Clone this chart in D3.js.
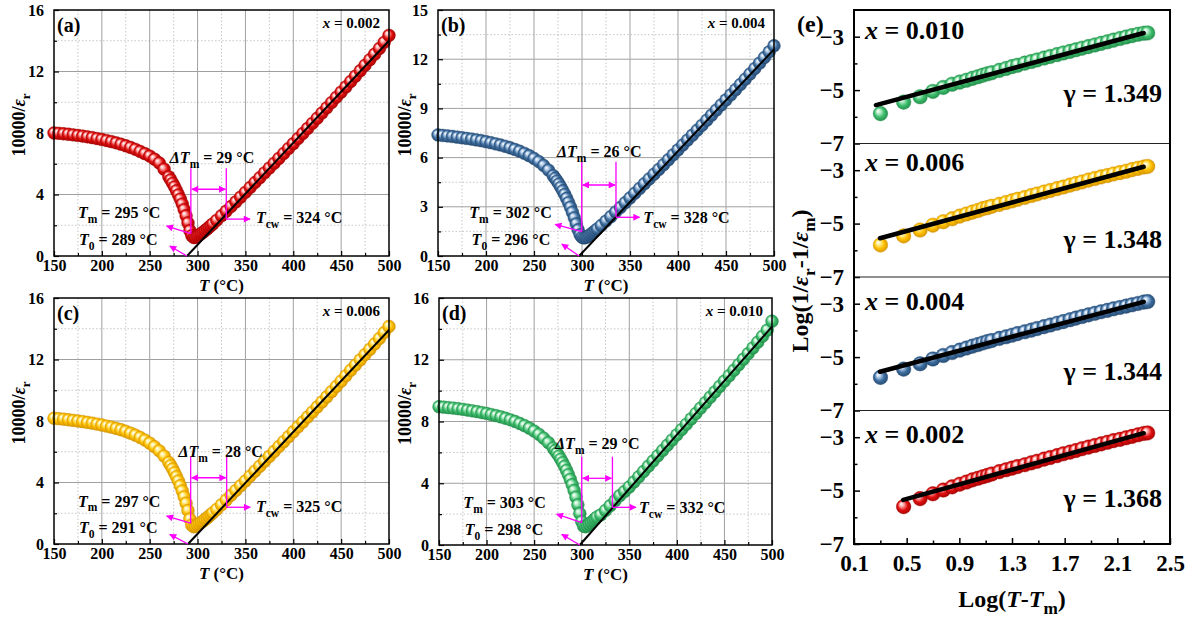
<!DOCTYPE html>
<html><head><meta charset="utf-8">
<script src="https://cdn.jsdelivr.net/npm/d3@7"></script>
<style>
body{margin:0;background:#fff;}
svg text{font-family:"Liberation Serif","Times New Roman",serif;font-weight:bold;fill:#000;}
</style></head><body>
<svg id="chart" width="1196" height="621"></svg>
<script>
// ---------------- DATA ----------------
const temps = [150,155,160,165,170,175,180,185,190,195,200,205,210,215,220,225,230,235,240,245,250,255,260,265,270,
 272,274,276,278,280,282,284,286,288,290,292,294,296,298,300,302,304,306,308,310,312,314,316,
 320,325,330,335,340,345,350,355,360,365,370,375,380,385,390,395,400,405,410,415,420,425,430,435,440,445,450,455,460,465,470,475,480,485,490,495,500];

const invEpsA = [8.00,7.98,7.95,7.92,7.88,7.84,7.80,7.75,7.70,7.64,7.58,7.51,7.44,7.36,7.27,7.17,7.06,6.94,6.80,6.66,6.50,6.30,6.05,5.65,5.15,
 4.95,4.73,4.50,4.25,3.98,3.70,3.38,3.02,2.62,2.15,1.65,1.32,1.20,1.22,1.30,1.38,1.47,1.56,1.66,1.76,1.87,1.98,2.09,
 2.32,2.62,2.92,3.22,3.52,3.83,4.14,4.46,4.78,5.09,5.41,5.72,6.03,6.35,6.67,6.99,7.31,7.64,7.97,8.30,8.63,8.96,9.30,9.64,9.98,10.32,10.66,11.00,11.35,11.70,12.05,12.41,12.77,13.13,13.50,13.90,14.35];
const invEpsB = [7.38,7.35,7.32,7.29,7.25,7.21,7.17,7.13,7.08,7.03,6.97,6.91,6.84,6.77,6.69,6.60,6.50,6.39,6.26,6.12,5.95,5.76,5.52,5.24,4.90,
 4.74,4.57,4.39,4.19,3.98,3.76,3.52,3.26,2.98,2.67,2.33,1.96,1.60,1.30,1.14,1.10,1.13,1.19,1.27,1.36,1.45,1.55,1.65,
 1.86,2.13,2.40,2.68,2.96,3.25,3.54,3.83,4.12,4.41,4.70,4.99,5.28,5.57,5.87,6.17,6.47,6.77,7.07,7.37,7.67,7.97,8.28,8.59,8.90,9.21,9.52,9.83,10.14,10.46,10.78,11.10,11.43,11.76,12.10,12.45,12.82];
const invEpsC = [8.18,8.15,8.12,8.08,8.04,8.00,7.96,7.91,7.86,7.80,7.74,7.67,7.60,7.52,7.43,7.33,7.21,7.08,6.93,6.76,6.56,6.33,6.06,5.72,5.30,
 5.10,4.88,4.64,4.38,4.10,3.79,3.45,3.07,2.65,2.18,1.62,1.22,1.12,1.16,1.24,1.32,1.41,1.50,1.60,1.70,1.81,1.92,2.03,
 2.25,2.55,2.86,3.17,3.48,3.79,4.10,4.42,4.74,5.06,5.38,5.70,6.02,6.34,6.66,6.98,7.30,7.62,7.94,8.26,8.58,8.91,9.24,9.57,9.91,10.25,10.59,10.94,11.30,11.64,11.98,12.32,12.66,13.01,13.37,13.75,14.15];
const invEpsD = [8.96,8.93,8.90,8.87,8.83,8.79,8.74,8.69,8.64,8.58,8.52,8.45,8.38,8.30,8.21,8.11,8.00,7.87,7.73,7.57,7.38,7.17,6.92,6.63,6.28,
 6.12,5.95,5.76,5.56,5.34,5.10,4.84,4.56,4.25,3.91,3.53,3.10,2.60,2.04,1.52,1.22,1.18,1.25,1.35,1.46,1.57,1.69,1.81,
 1.95,2.24,2.55,2.87,3.20,3.47,3.76,4.09,4.42,4.76,5.10,5.44,5.78,6.12,6.46,6.80,7.14,7.48,7.82,8.17,8.52,8.87,9.22,9.57,9.92,10.27,10.62,10.97,11.32,11.68,12.04,12.40,12.77,13.14,13.52,13.92,14.50];

// Curie-Weiss fit lines: from (T0, 0) to (500, end)
const fitT0 = [289, 297, 290, 298];
const fitEnd = [14.0, 12.6, 13.92, 14.14];

// annotations
const compLabels = ["0.002","0.004","0.006","0.010"];
const panelLetters = ["(a)","(b)","(c)","(d)"];
const tmText = ["295","302","297","303"];
const t0Text = ["289","296","291","298"];
const tcwText = ["324","328","325","332"];
const dTmText = ["29","26","28","29"];
const tmLineT = [293, 299.7, 292.8, 300];
const tmLineTop = [5.7, 5.75, 5.68, 5.72];
const tmLineBot = [1.45, 1.48, 1.35, 1.45];
const tcwLineT = [330, 335.4, 330.4, 332.3];
const tcwLineBot = [2.4, 2.36, 2.39, 2.44];
const dblArrowV = [4.34, 4.33, 4.31, 4.32];
const tcwArrowEnd = [354.8, 360, 355, 357];
const tmArrowHead = [[267.7,1.95],[272,1.93],[267.7,1.82],[273.7,2.0]];
const t0ArrowHead = [[271,0.65],[279,0.73],[271,0.63],[279,0.69]];
const dTmLabelPos = [[271,6.05],[274,6.04],[280,5.66],[272,6.22]];
const tmLabelPos = [[175,2.47],[182.6,2.32],[175,2.43],[175.6,2.4]];
const t0LabelPos = [[176,0.72],[185,0.67],[176,0.69],[177,0.65]];
const tcwLabelPos = [[361,2.15],[363.9,2.01],[361,2.1],[360.3,2.05]];

const xTicks = [150,200,250,300,350,400,450,500];
const xMinor = [175,225,275,325,375,425,475];
const yTicks16 = [0,4,8,12,16], yMinor16 = [2,6,10,14];
const yTicks15 = [0,3,6,9,12,15], yMinor15 = [1.5,4.5,7.5,10.5,13.5];

// panel (e)
const deltaT = [2,3,4,5,6,7,8,9,10,11,12,13,14,16,18,20,22,25,28,31,35,39,44,49,55,61,68,76,85,95,106,118,132,147,163,181,200,214];
const deltaTRed = [3,4,5,6,7,8,9,10,11,12,13,14,16,18,20,22,25,28,31,35,39,44,49,55,61,68,76,85,95,106,118,132,147,163,181,200,214];
const logG010 = [-5.88,-5.45,-5.25,-5.05,-4.90,-4.78,-4.70,-4.63,-4.56,-4.50,-4.44,-4.39,-4.35,-4.26,-4.19,-4.12,-4.07,-3.99,-3.93,-3.87,-3.80,-3.74,-3.67,-3.61,-3.55,-3.49,-3.43,-3.37,-3.31,-3.25,-3.19,-3.13,-3.07,-3.01,-2.96,-2.91,-2.87,-2.86];
const logG006 = [-5.80,-5.46,-5.24,-5.06,-4.93,-4.82,-4.72,-4.64,-4.57,-4.51,-4.44,-4.40,-4.35,-4.28,-4.21,-4.15,-4.09,-4.02,-3.95,-3.89,-3.82,-3.76,-3.69,-3.63,-3.56,-3.50,-3.44,-3.37,-3.31,-3.25,-3.20,-3.14,-3.09,-3.04,-2.98,-2.93,-2.88,-2.86];
const logG004 = [-5.76,-5.45,-5.25,-5.07,-4.94,-4.83,-4.74,-4.66,-4.59,-4.53,-4.47,-4.42,-4.38,-4.30,-4.24,-4.18,-4.12,-4.05,-3.99,-3.93,-3.86,-3.80,-3.73,-3.67,-3.60,-3.54,-3.48,-3.42,-3.36,-3.30,-3.25,-3.19,-3.14,-3.09,-3.04,-2.99,-2.94,-2.92];
const logG002 = [-5.60,-5.30,-5.12,-4.98,-4.86,-4.76,-4.68,-4.60,-4.54,-4.48,-4.43,-4.38,-4.29,-4.22,-4.16,-4.10,-4.03,-3.96,-3.90,-3.82,-3.76,-3.69,-3.62,-3.56,-3.50,-3.43,-3.37,-3.31,-3.25,-3.19,-3.13,-3.08,-3.02,-2.97,-2.91,-2.86,-2.84];
const eComps = ["0.010","0.006","0.004","0.002"];
const gammas = ["1.349","1.348","1.344","1.368"];
const eFitStart = [[0.267,-5.56],[0.297,-5.55],[0.297,-5.55],[0.474,-5.35]];
const eFitEnd = [[2.30,-2.86],[2.30,-2.87],[2.30,-2.93],[2.30,-2.85]];
const eXTicks = [0.1,0.5,0.9,1.3,1.7,2.1,2.5];
const eXMinor = [0.3,0.7,1.1,1.5,1.9,2.3];
const eYTicks = [-3,-5,-7];
const eYMinor = [-4,-6];

// ---------------- DRAW ----------------
const svg = d3.select("#chart");
const defs = svg.append("defs");
const colors = {
  red:   ["#ffb0b0","#e01010","#a00000"],
  blue:  ["#b8d0ea","#3d6d9e","#24476e"],
  yellow:["#fff0a0","#ffc000","#d09000"],
  green: ["#bff0cf","#3dbd6c","#218a48"]
};
Object.entries(colors).forEach(([k,c]) => {
  const g = defs.append("radialGradient").attr("id","sph-"+k)
    .attr("cx","50%").attr("cy","50%").attr("r","55%").attr("fx","32%").attr("fy","30%");
  g.append("stop").attr("offset","0%").attr("stop-color","#ffffff");
  g.append("stop").attr("offset","25%").attr("stop-color",c[0]);
  g.append("stop").attr("offset","60%").attr("stop-color",c[1]);
  g.append("stop").attr("offset","100%").attr("stop-color",c[2]);
});
defs.append("marker").attr("id","ah").attr("viewBox","0 0 10 10")
  .attr("refX",9).attr("refY",5).attr("markerWidth",9).attr("markerHeight",7)
  .attr("markerUnits","userSpaceOnUse").attr("orient","auto-start-reverse")
  .append("path").attr("d","M0,0L10,5L0,10z").attr("fill","#ff00ff");

function rich(parent, x, y, parts, size, anchor) {
  const t = parent.append("text").attr("x", x).attr("y", y)
    .attr("font-size", size).attr("text-anchor", anchor || "start");
  let cur = 0;
  parts.forEach(([s, f]) => {
    const ts = t.append("tspan").text(s);
    const sub = f && f.includes("s");
    if (f && f.includes("i")) ts.attr("font-style","italic");
    const off = sub ? size*0.3 : 0;
    if (off !== cur) { ts.attr("dy", off - cur); cur = off; }
    if (sub) ts.attr("font-size", size*0.72);
  });
  return t;
}

const panelCfg = [
  {l:54, r:389, t:10, b:256, ymax:16, yt:yTicks16, ym:yMinor16, data:invEpsA, col:"red", ytx:25},
  {l:438, r:774, t:10, b:256, ymax:15, yt:yTicks15, ym:yMinor15, data:invEpsB, col:"blue", ytx:411},
  {l:54, r:389, t:298, b:544, ymax:16, yt:yTicks16, ym:yMinor16, data:invEpsC, col:"yellow", ytx:25},
  {l:439, r:772, t:298, b:545, ymax:16, yt:yTicks16, ym:yMinor16, data:invEpsD, col:"green", ytx:411}
];

panelCfg.forEach((p, i) => {
  const g = svg.append("g");
  const x = d3.scaleLinear().domain([150,500]).range([p.l, p.r]);
  const y = d3.scaleLinear().domain([0, p.ymax]).range([p.b, p.t]);
  // grid
  g.selectAll(".gmx").data(xMinor).enter().append("line")
    .attr("x1",d=>x(d)).attr("x2",d=>x(d)).attr("y1",p.t).attr("y2",p.b)
    .attr("stroke","#b8b8b8").attr("stroke-width",0.8).attr("stroke-dasharray","1.5,2");
  g.selectAll(".gmy").data(p.ym).enter().append("line")
    .attr("x1",p.l).attr("x2",p.r).attr("y1",d=>y(d)).attr("y2",d=>y(d))
    .attr("stroke","#b8b8b8").attr("stroke-width",0.8).attr("stroke-dasharray","1.5,2");
  g.selectAll(".gx").data(xTicks.slice(1,-1)).enter().append("line")
    .attr("x1",d=>x(d)).attr("x2",d=>x(d)).attr("y1",p.t).attr("y2",p.b)
    .attr("stroke","#a0a0a0").attr("stroke-width",1);
  g.selectAll(".gy").data(p.yt.slice(1,-1)).enter().append("line")
    .attr("x1",p.l).attr("x2",p.r).attr("y1",d=>y(d)).attr("y2",d=>y(d))
    .attr("stroke","#a0a0a0").attr("stroke-width",1);

  // axes (ticks inward)
  const ax = g.append("g").attr("transform",`translate(0,${p.b})`)
    .call(d3.axisBottom(x).tickValues(xTicks).tickSize(-5).tickFormat(d3.format("d")));
  ax.selectAll("text").attr("font-size",16).attr("dy","0.71em").attr("y",4);
  g.append("g").attr("transform",`translate(0,${p.b})`)
    .call(d3.axisBottom(x).tickValues(xMinor).tickSize(-3).tickFormat(""));
  const ay = g.append("g").attr("transform",`translate(${p.l},0)`)
    .call(d3.axisLeft(y).tickValues(p.yt).tickSize(-5).tickPadding(10).tickFormat(d3.format("d")));
  ay.selectAll("text").attr("font-size",16);
  g.append("g").attr("transform",`translate(${p.l},0)`)
    .call(d3.axisLeft(y).tickValues(p.ym).tickSize(-3).tickFormat(""));
  g.selectAll(".domain").remove();
  g.selectAll(".tick line").attr("stroke","#000").attr("stroke-width",1.2);

  // data circles
  const pts = temps.map((t, k) => [t, p.data[k]]);
  g.selectAll(".pt").data(pts).enter().append("circle")
    .attr("cx",d=>x(d[0])).attr("cy",d=>y(d[1])).attr("r",6.4)
    .attr("fill",`url(#sph-${p.col})`).attr("stroke",colors[p.col][2]).attr("stroke-width",0.4);

  // fit line
  g.append("line").attr("x1",x(fitT0[i])).attr("y1",y(0)).attr("x2",x(500)).attr("y2",y(fitEnd[i]))
    .attr("stroke","#000").attr("stroke-width",2);

  // frame
  g.append("rect").attr("x",p.l).attr("y",p.t).attr("width",p.r-p.l).attr("height",p.b-p.t)
    .attr("fill","none").attr("stroke","#000").attr("stroke-width",1.5);

  // magenta annotations
  const mg = g.append("g").attr("stroke","#ff00ff").attr("stroke-width",1.3).attr("fill","none");
  mg.append("line").attr("x1",x(tmLineT[i])).attr("x2",x(tmLineT[i])).attr("y1",y(tmLineTop[i])).attr("y2",y(tmLineBot[i]));
  mg.append("line").attr("x1",x(tcwLineT[i])).attr("x2",x(tcwLineT[i])).attr("y1",y(tmLineTop[i])).attr("y2",y(tcwLineBot[i]));
  mg.append("line").attr("x1",x(tmLineT[i])+1).attr("x2",x(tcwLineT[i])-1).attr("y1",y(dblArrowV[i])).attr("y2",y(dblArrowV[i]))
    .attr("marker-start","url(#ah)").attr("marker-end","url(#ah)");
  mg.append("line").attr("x1",x(tcwLineT[i])).attr("x2",x(tcwArrowEnd[i])).attr("y1",y(tcwLineBot[i])).attr("y2",y(tcwLineBot[i]))
    .attr("marker-end","url(#ah)");
  mg.append("line").attr("x1",x(tmLineT[i])).attr("y1",y(tmLineBot[i])).attr("x2",x(tmArrowHead[i][0])).attr("y2",y(tmArrowHead[i][1]))
    .attr("marker-end","url(#ah)");
  mg.append("line").attr("x1",x(fitT0[i])).attr("y1",y(0)).attr("x2",x(t0ArrowHead[i][0])).attr("y2",y(t0ArrowHead[i][1]))
    .attr("marker-end","url(#ah)");

  // labels
  rich(g, x(dTmLabelPos[i][0]), y(dTmLabelPos[i][1]), [["ΔT","i"],["m","s"],[" = "+dTmText[i]+" °C"]], 16);
  rich(g, x(tmLabelPos[i][0]), y(tmLabelPos[i][1]), [["T","i"],["m","s"],[" = "+tmText[i]+" °C"]], 16);
  rich(g, x(t0LabelPos[i][0]), y(t0LabelPos[i][1]), [["T","i"],["0","s"],[" = "+t0Text[i]+" °C"]], 16);
  rich(g, x(tcwLabelPos[i][0]), y(tcwLabelPos[i][1]), [["T","i"],["cw","s"],[" = "+tcwText[i]+" °C"]], 16);

  g.append("text").attr("x",p.l+3).attr("y",p.t+22).attr("font-size",20).text(panelLetters[i]);
  rich(g, p.r-9, p.t+18, [["x","i"],[" = "+compLabels[i]]], 15, "end");

  // axis titles
  rich(g, (p.l+p.r)/2, p.b+35, [["T","i"],[" (°C)"]], 17, "middle");
  const yt = rich(g, 0, 0, [["10000/"],["ε","i"],["r","s"]], 18, "middle");
  yt.attr("transform",`translate(${p.ytx},${(p.t+p.b)/2 - 8}) rotate(-90)`);
});

// ---------------- panel (e) ----------------
const eg = svg.append("g");
const ex = d3.scaleLinear().domain([0.1,2.5]).range([854,1170]);
const eTop = 10, eBot = 544, eH = (eBot - eTop)/4;
const eSeries = [
  {dt:deltaT, v:logG010, col:"green"},
  {dt:deltaT, v:logG006, col:"yellow"},
  {dt:deltaT, v:logG004, col:"blue"},
  {dt:deltaTRed, v:logG002, col:"red"}
];
const compY = [29, 27.5, 33, 32.5];
const gamY = [92, 104.5, 103, 96.5];
eSeries.forEach((s, i) => {
  const top = eTop + i*eH, bot = top + eH;
  const y = d3.scaleLinear().domain([-7,-2]).range([bot, top]);
  const g = eg.append("g");
  const ay = g.append("g").attr("transform","translate(854,0)")
    .call(d3.axisLeft(y).tickValues(eYTicks).tickSize(-6).tickPadding(10).tickFormat(d3.format("d")));
  ay.selectAll("text").attr("font-size",23);
  g.append("g").attr("transform","translate(854,0)")
    .call(d3.axisLeft(y).tickValues(eYMinor).tickSize(-3.5).tickFormat(""));
  g.selectAll(".domain").remove();
  g.selectAll(".tick line").attr("stroke","#000").attr("stroke-width",1.5);
  const pts = s.dt.map((d, k) => [Math.log10(d), s.v[k]]);
  g.selectAll(".pt").data(pts).enter().append("circle")
    .attr("cx",d=>ex(d[0])).attr("cy",d=>y(d[1])).attr("r",7.3)
    .attr("fill",`url(#sph-${s.col})`).attr("stroke",colors[s.col][2]).attr("stroke-width",0.4);
  g.append("line").attr("x1",ex(eFitStart[i][0])).attr("y1",y(eFitStart[i][1]))
    .attr("x2",ex(eFitEnd[i][0])).attr("y2",y(eFitEnd[i][1]))
    .attr("stroke","#000").attr("stroke-width",4.5).attr("stroke-linecap","round");
  rich(g, 865, top + compY[i], [["x","i"],[" = "+eComps[i]]], 26);
  g.append("text").attr("x",1162).attr("y",top + gamY[i]).attr("font-size",26).attr("text-anchor","end")
    .text("γ = " + gammas[i]);
  if (i > 0) g.append("line").attr("x1",854).attr("x2",1170).attr("y1",top).attr("y2",top)
    .attr("stroke","#222").attr("stroke-width",1.2);
});
const exAx = eg.append("g").attr("transform",`translate(0,${eBot})`)
  .call(d3.axisBottom(ex).tickValues(eXTicks).tickSize(-6).tickFormat(d3.format(".1f")));
exAx.selectAll("text").attr("font-size",23).attr("y",11);
eg.append("g").attr("transform",`translate(0,${eBot})`)
  .call(d3.axisBottom(ex).tickValues(eXMinor).tickSize(-3.5).tickFormat(""));
eg.selectAll(".domain").remove();
eg.selectAll(".tick line").attr("stroke","#000").attr("stroke-width",1.5);
eg.append("rect").attr("x",854).attr("y",eTop).attr("width",316).attr("height",eBot-eTop)
  .attr("fill","none").attr("stroke","#000").attr("stroke-width",2);
eg.append("text").attr("x",797).attr("y",32).attr("font-size",24).text("(e)");
rich(eg, 1012, 607, [["Log("],["T","i"],["-"],["T","i"],["m","s"],[")"]], 24, "middle");
const eyt = rich(eg, 0, 0, [["Log(1/"],["ε","i"],["r","s"],["-1/"],["ε","i"],["m","s"],[")"]], 24, "middle");
eyt.attr("transform","translate(808,281) rotate(-90)");
</script>
</body></html>
